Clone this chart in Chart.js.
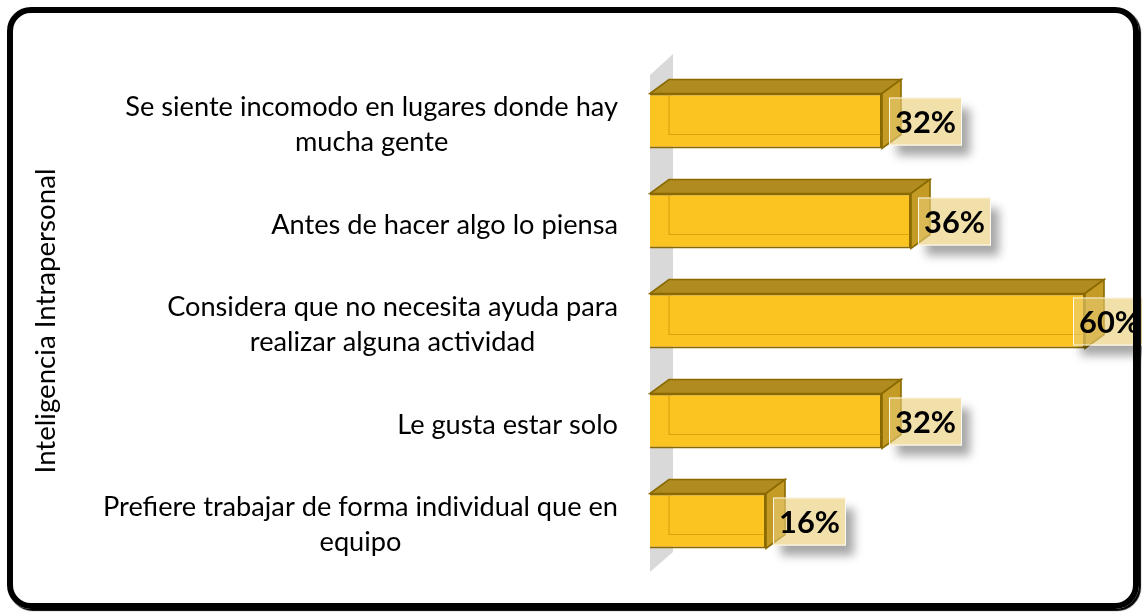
<!DOCTYPE html>
<html><head><meta charset="utf-8">
<script src="https://cdn.jsdelivr.net/npm/chart.js@4"></script>
<style>
html,body{margin:0;padding:0;background:#fff;}
#wrap{position:relative;width:1142px;height:612px;overflow:hidden;}
#frame{position:absolute;left:7px;top:7px;width:1120px;height:590px;border:6px solid #000;border-radius:24px;box-shadow:2px 2px 1px #000;pointer-events:none;}
canvas{position:absolute;left:0;top:0;}
</style></head>
<body><div id="wrap"><canvas id="c" width="1142" height="612"></canvas><div id="frame"></div></div>
<script>
// ---- data ----
const categories = [
  ["Se siente incomodo en lugares donde hay", "mucha gente"],
  ["Antes de hacer algo lo piensa"],
  ["Considera que no necesita ayuda para", "realizar alguna actividad"],
  ["Le gusta estar solo"],
  ["Prefiere trabajar de forma individual que en", "equipo"]
];
const values = [32, 36, 60, 32, 16];
const valueLabels = ["32%", "36%", "60%", "32%", "16%"];
const axisTitle = "Inteligencia Intrapersonal";

// ---- style ----
const FAMILY = "Lato";
function fitSize(text, target, weight) {
  const c = document.createElement('canvas').getContext('2d');
  c.font = weight + " 100px " + FAMILY;
  return 100 * target / c.measureText(text).width;
}
const labelSize = fitSize("Antes de hacer algo lo piensa", 347, "normal");
const pctSize = fitSize("32%", 61, "bold");
const titleSize = fitSize(axisTitle, 305, "normal");
const DX = 19, DY = -14;
const FRONT = "#FBC420", TOP = "#B08B20", SIDE = "#C49B24", EDGE = "#8A6A00";

const wallPlugin = {
  id: 'wall',
  beforeDatasetsDraw(chart) {
    const {ctx, chartArea: a} = chart;
    ctx.save();
    ctx.fillStyle = "#D9D9D9";
    ctx.beginPath();
    ctx.moveTo(a.left, a.top + 4);
    ctx.lineTo(a.left + 23, a.top - 17);
    ctx.lineTo(a.left + 23, a.bottom - 19);
    ctx.lineTo(a.left, a.bottom + 1);
    ctx.closePath();
    ctx.fill();
    ctx.restore();
  }
};

const boxPlugin = {
  id: 'box3d',
  afterDatasetsDraw(chart) {
    const {ctx} = chart;
    const meta = chart.getDatasetMeta(0);
    ctx.save();
    meta.data.forEach((el) => {
      const p = el.getProps(['x', 'y', 'base', 'height'], true);
      const x0 = p.base, x1 = p.x, yt = p.y - p.height / 2, yb = p.y + p.height / 2;
      // faint hidden back edges
      ctx.strokeStyle = "rgba(190,140,0,0.55)";
      ctx.lineWidth = 1.2;
      ctx.beginPath();
      ctx.moveTo(x0 + DX, yt + DY + 2); ctx.lineTo(x0 + DX, yb + DY);
      ctx.lineTo(x1 + DX, yb + DY);
      ctx.stroke();
      ctx.lineWidth = 1.6;
      ctx.strokeStyle = EDGE;
      // top face
      ctx.fillStyle = TOP;
      ctx.beginPath();
      ctx.moveTo(x0, yt); ctx.lineTo(x0 + DX, yt + DY); ctx.lineTo(x1 + DX, yt + DY); ctx.lineTo(x1, yt);
      ctx.closePath(); ctx.fill(); ctx.stroke();
      // side face
      ctx.fillStyle = SIDE;
      ctx.beginPath();
      ctx.moveTo(x1, yt); ctx.lineTo(x1 + DX, yt + DY); ctx.lineTo(x1 + DX, yb + DY); ctx.lineTo(x1, yb);
      ctx.closePath(); ctx.fill(); ctx.stroke();
    });
    // value labels
    const W = chart.width, H = chart.height;
    meta.data.forEach((el, i) => {
      const p = el.getProps(['x', 'y'], true);
      const bw = 73, bh = 48;
      let bx = p.x + 7;
      if (bx + bw > W + 4) bx = W + 4 - bw;
      const by = p.y - bh / 2 + 0.5;
      // shadow (outside the box only)
      ctx.save();
      ctx.beginPath();
      ctx.rect(0, 0, W, H);
      ctx.rect(bx, by, bw, bh);
      ctx.clip('evenodd');
      ctx.shadowColor = "rgba(0,0,0,0.35)";
      ctx.shadowBlur = 9;
      ctx.shadowOffsetX = 10000 + 8;
      ctx.shadowOffsetY = 10;
      ctx.fillStyle = "#000";
      ctx.fillRect(bx - 10000, by, bw, bh);
      ctx.restore();
      ctx.fillStyle = "rgba(233,205,118,0.62)";
      ctx.fillRect(bx, by, bw, bh);
      ctx.strokeStyle = "rgba(255,255,255,0.85)";
      ctx.lineWidth = 1;
      ctx.strokeRect(bx + 0.5, by + 0.5, bw - 1, bh - 1);
      ctx.fillStyle = "#000";
      ctx.font = "bold " + pctSize + "px " + FAMILY;
      ctx.textAlign = "center";
      ctx.textBaseline = "middle";
      ctx.fillText(valueLabels[i], bx + bw / 2, p.y + 2);
    });
    ctx.restore();
  }
};

const catLabelPlugin = {
  id: 'catLabels',
  afterDraw(chart) {
    const {ctx} = chart;
    const ys = chart.scales.y;
    const right = chart.chartArea.left - 32;
    ctx.save();
    ctx.font = labelSize + "px " + FAMILY;
    ctx.fillStyle = "#000";
    ctx.textAlign = "center";
    ctx.textBaseline = "middle";
    categories.forEach((lines, i) => {
      const cy = ys.getPixelForTick(i) + 4;
      const w = Math.max(...lines.map(l => ctx.measureText(l).width));
      const cx = right - w / 2;
      lines.forEach((l, k) => {
        ctx.fillText(l, cx, cy + (k - (lines.length - 1) / 2) * 35);
      });
    });
    ctx.restore();
  }
};

const titleLH = titleSize * 1.2;
new Chart(document.getElementById('c'), {
  type: 'bar',
  data: {
    labels: categories,
    datasets: [{
      data: values,
      backgroundColor: FRONT,
      borderColor: EDGE,
      borderWidth: 2,
      barPercentage: 1,
      categoryPercentage: 0.55
    }]
  },
  options: {
    indexAxis: 'y',
    responsive: false,
    animation: false,
    devicePixelRatio: 1,
    layout: {padding: {left: 0, right: 1142 - (650 + 65 * 7.25), top: 71, bottom: 41}},
    plugins: {legend: {display: false}, tooltip: {enabled: false}},
    scales: {
      x: {display: false, min: 0, max: 65},
      y: {
        display: true,
        grid: {display: false},
        border: {display: false},
        ticks: {display: false},
        title: {display: true, text: axisTitle, color: "#000",
                font: {family: FAMILY, size: titleSize, lineHeight: 1.2},
                padding: {top: 46 - titleLH / 2, bottom: 0}},
        afterFit(s) { s.width = 650; }
      }
    }
  },
  plugins: [wallPlugin, boxPlugin, catLabelPlugin]
});
</script>
</body></html>
